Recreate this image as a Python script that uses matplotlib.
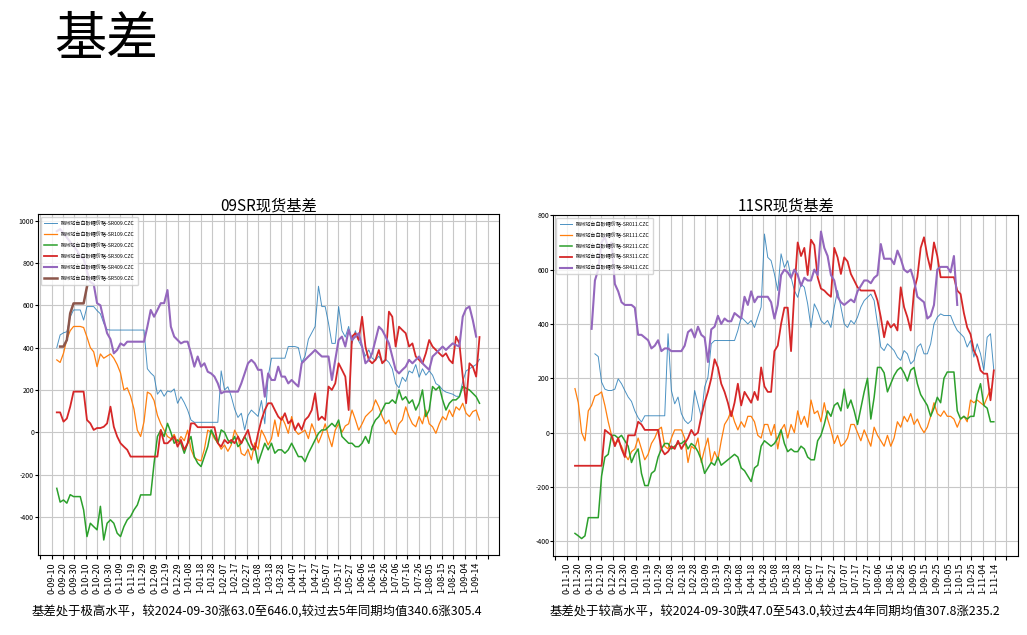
import numpy as np
import matplotlib
matplotlib.use("Agg")
import matplotlib.pyplot as plt

plt.rcParams['font.family'] = ['Noto Sans CJK SC', 'DejaVu Sans']
plt.rcParams['axes.unicode_minus'] = False

# ---- 09 contracts: basis series (sampled along the date axis) ----
days_09 = np.linspace(14.6, 383.0, 127)

sr009 = [400, 460, 470, 475, 545, 578, 578, 578, 530, 594, 594, 594, 575, 560, 515, 485,
         483, 483, 483, 483, 483, 483, 483, 483, 483, 483, 483,
         300, 280, 265, 180, 200, 170, 195, 190, 205, 137, 168, 140, 105, 58,
         47, 47, 47, 47, 47, 47, 47, 47,
         290, 200, 215, 170, 110, 70, 90, 11, 80, 105, 90, 75, 150, 40, 263,
         350, 350, 350, 350, 350, 405, 405, 405,
         400, 330, 360, 440, 470, 500, 690, 594, 594, 515, 420, 420, 594, 480, 450, 500,
         420, 480, 430, 400, 360, 390, 350, 340, 360, 330, 345, 330, 300, 230, 210, 260,
         240, 290, 280, 320, 260, 300, 270, 290, 270, 230, 220, 200, 190, 185, 180, 170,
         170, 240, 290, 300, 310, 320, 345]

sr109 = [342, 330, 373, 440, 480, 500, 500, 500, 495, 450, 400, 380, 310, 370, 350, 360,
         370, 350, 320, 280, 200, 210, 170, 110, 10, -20, 50, 190, 180, 150, 80, 40,
         10, -20, -30, -10, -50, -20, -40, 10, -80, -120, -130, -135, -80, 10, 0, -30,
         -50, -80, -60, -90, -60, 10, -20, -100, -110, -80, -130, -50, -80, 10, -20, -60,
         -30, 58, -20, 74, 40, -5, 74, 10, -10, 0, 10, -30, 40, 0, -50, -10,
         40, -20, -68, 10, 40, 0, 30, 40, 105, 60, 10, 40, 74, 90, 105, 153,
         120, 74, 40, 58, 10, -10, 40, 58, 120, 74, 40, 26, 74, 40, 105, 40,
         26, -5, 40, 74, 58, 105, 74, 120, 105, 137, 90, 74, 98, 105, 58]

sr209 = [-265, -330, -320, -335, -295, -304, -304, -304, -367, -493, -430, -446, -461, -350, -509, -430,
         -414, -430, -477, -493, -446, -414, -398, -367, -344, -296, -296, -296, -296, -146, -20, 10,
         -20, 42, 0, -52, -36, -52, -99, -52, -20, -115, -146, -162, -115, -68, 11, -20,
         -52, 11, 0, -36, -52, -20, -68, -52, -20, -52, -83, -68, -146, -99, -52, -83,
         -52, -99, -83, -83, -99, -83, -52, -83, -115, -115, -139, -99, -68, -36, -5, 11,
         11, 26, 42, 26, 58, -20, -36, -52, -52, -68, -68, -52, -20, -52, 26, 58,
         74, 105, 137, 137, 153, 137, 200, 153, 168, 137, 153, 105, 137, 200, 74, 105,
         216, 200, 216, 153, 105, 137, 153, 153, 168, 216, 208, 200, 184, 168, 137]

sr309 = [94, 94, 50, 65, 121, 192, 192, 192, 192, 58, 42, 11, 20, 20, 26, 42,
         121, 26, -20, -52, -68, -83, -115, -115, -115, -115, -115, -115, -115, -115, -115, 11,
         -52, -52, -36, -20, -68, -36, -83, -52, 42, 42, 24, 24, 24, 24, 24, 24,
         -52, -68, -36, -52, -36, -52, -20, -52, -20, 11, -52, -83, -5, 58, 105, 137,
         137, 105, 74, 58, 90, 42, 58, 11, 42, 11, 58, 74, 105, 184, 58, 74,
         58, 216, 200, 231, 326, 295, 263, 105, 452, 468, 436, 546, 405, 342, 326, 342,
         389, 326, 342, 570, 546, 405, 499, 483, 468, 405, 420, 358, 342, 326, 373, 436,
         405, 389, 373, 358, 373, 342, 326, 452, 420, 263, 137, 326, 310, 263, 450]

sr409 = [950, 960, 940, 920, 900, 880, 860, 830, 820, 760, 710, 700, 610, 600, 530, 468,
         440, 373, 389, 420, 410, 428, 428, 428, 428, 428, 428, 499, 578, 546, 578, 610,
         610, 672, 499, 452, 436, 420, 428, 428, 373, 310, 358, 310, 326, 286, 278, 263,
         231, 184, 192, 192, 192, 192, 192, 231, 278, 326, 342, 326, 295, 295, 168, 278,
         247, 247, 310, 263, 263, 231, 247, 231, 216, 326, 342, 358, 373, 389, 373, 358,
         358, 358, 247, 342, 436, 452, 405, 483, 436, 452, 468, 405, 326, 342, 373, 436,
         499, 483, 452, 420, 358, 295, 278, 295, 310, 342, 326, 342, 358, 326, 310, 295,
         358, 373, 389, 405, 389, 405, 420, 412, 405, 546, 584, 594, 530, 452, None]

sr509 = [None, 405, 405, 436, 562, 609, 609, 609, 609, 688] + [None] * 117

# ---- 11 contracts ----
days_11 = np.linspace(17.2, 379.3, 127)

sr011 = [None] * 6 + [
    290, 280, 186, 160, 155, 155, 160, 198, 180, 155, 131, 115, 80, 55, 39,
    62, 62, 62, 62, 62, 62, 62,
    364, 155, 106, 131, 70, 45, 33, 45, 155, 106, 58, 168, 204, 327,
    339, 339, 339, 339, 339, 339, 339,
    376, 425, 413, 400, 413, 387, 425, 462, 731, 645, 633, 584, 523, 658, 608, 633,
    572, 523, 498, 547, 535, 474, 387, 474, 449, 413, 400, 413, 387, 462, 523, 462,
    400, 387, 413, 400, 425, 462, 486, 498, 510, 486, 400, 315, 302, 327, 315, 302,
    278, 266, 302, 290, 253, 266, 315, 327, 290, 290, 327, 400, 425, 437, 431, 431,
    431, 400, 376, 364, 351, 315, 339, 278, 327, 290, 229, 351, 364, 229]

sr111 = [162, 110, 0, -30, 80, 100, 135, 140, 150, 100, 40, -10, -40, -30, -50, -80,
         -100, -70, -60, -20, -60, -100, -80, -40, -20, 10, 20, -50, -60, -20, 10, 10,
         10, -20, -110, -50, -60, -20, -110, -60, -20, -110, -70, -100, -30, 30, 50, 80,
         40, 10, 40, 20, 60, 60, 40, -10, -20, 30, 30, -10, 30, -60, 10, 30,
         -20, 30, 0, 80, 30, 60, 20, 120, 70, 80, 40, 110, 50, 10, -40, -10,
         -50, -40, -20, 30, 30, 0, -30, 10, -20, -50, 20, -10, -30, -50, -10, -50,
         -20, 40, 20, 60, 40, 70, 30, 50, 20, 0, 20, 60, 110, 70, 60, 80,
         60, 60, 50, 20, 50, 60, 40, 120, 110, 120, 110, 100, 130, 160, None]

sr211 = [-371, -380, -390, -380, -313, -313, -313, -313, -160, -90, -80, -10, -10, -20, -10, -30,
         -50, -110, -80, -60, -150, -195, -195, -150, -140, -90, -60, -40, -40, -60, -50, -40,
         -40, -30, -60, -40, -50, -70, -100, -150, -130, -110, -120, -90, -120, -110, -100, -90,
         -80, -90, -130, -140, -160, -180, -130, -120, -50, -30, -40, -50, -40, -20, 10, -40,
         -70, -60, -70, -70, -50, -60, -90, -100, -100, -30, -10, 30, 80, 60, 100, 110,
         80, 160, 90, 120, 80, 30, 90, 150, 200, 50, 130, 240, 240, 220, 150, 180,
         210, 230, 240, 220, 190, 230, 240, 180, 140, 120, 100, 60, 90, 130, 110, 200,
         223, 223, 223, 80, 50, 60, 50, 60, 60, 140, 180, 100, 90, 40, 40]

sr311 = [-122, -122, -122, -122, -122, -122, -122, -122, -122, 10, 0, -10, -50, -20, -60, -90,
         -10, -10, -10, 40, 30, 10, 10, 10, 10, 10, -60, -80, -70, -50, -60, -30,
         -60, -40, -20, 10, -10, 0, 60, 110, 150, 200, 270, 240, 180, 150, 110, 60,
         110, 180, 100, 150, 130, 110, 150, 120, 240, 170, 150, 150, 300, 320, 400, 460,
         460, 300, 520, 700, 650, 680, 580, 710, 690, 572, 530, 523, 510, 500, 680, 645,
         584, 645, 630, 584, 560, 535, 523, 523, 523, 523, 523, 486, 425, 351, 410, 387,
         400, 376, 535, 462, 425, 376, 523, 572, 680, 719, 650, 600, 700, 650, 572, 572,
         572, 572, 572, 523, 510, 440, 387, 362, 302, 278, 229, 217, 217, 119, 229]

sr411 = [None] * 5 + [
    382, 560, 600, 700, 720, 680, 700, 547, 520, 480, 470, 470, 470, 460, 360, 360,
    350, 340, 310, 320, 340, 300, 310, 310, 300, 300, 300, 300, 320, 370, 380, 350,
    390, 360, 350, 260, 380, 390, 430, 400, 420, 410, 410, 440, 430, 420, 500, 470,
    520, 480, 500, 500, 500, 500, 480, 420, 470, 580, 600, 590, 570, 600, 580, 540,
    570, 560, 560, 600, 580, 740, 680, 650, 580, 560, 500, 480, 470, 480, 490, 480,
    520, 540, 560, 560, 550, 570, 580, 694, 640, 640, 640, 620, 670, 640, 600, 590,
    600, 560, 500, 490, 480, 420, 430, 470, 600, 610, 610, 610, 590, 650, 470] + [None] * 11

names_09 = ['柳州站台白砂糖价格-SR009.CZC', '柳州站台白砂糖价格-SR109.CZC', '柳州站台白砂糖价格-SR209.CZC',
            '柳州站台白砂糖价格-SR309.CZC', '柳州站台白砂糖价格-SR409.CZC', '柳州站台白砂糖价格-SR509.CZC']
names_11 = ['柳州站台白砂糖价格-SR011.CZC', '柳州站台白砂糖价格-SR111.CZC', '柳州站台白砂糖价格-SR211.CZC',
            '柳州站台白砂糖价格-SR311.CZC', '柳州站台白砂糖价格-SR411.CZC']

labels_09 = ["0-09-10", "0-09-20", "0-09-30", "0-10-10", "0-10-20", "0-10-30", "0-11-09", "0-11-19",
             "0-11-29", "0-12-09", "0-12-19", "0-12-29", "1-01-08", "1-01-18", "1-01-28", "1-02-07",
             "1-02-17", "1-02-27", "1-03-08", "1-03-18", "1-03-28", "1-04-07", "1-04-17", "1-04-27",
             "1-05-07", "1-05-17", "1-05-27", "1-06-06", "1-06-16", "1-06-26", "1-07-06", "1-07-16",
             "1-07-26", "1-08-05", "1-08-15", "1-08-25", "1-09-04", "1-09-14"]
labels_11 = ["0-11-10", "0-11-20", "0-11-30", "0-12-10", "0-12-20", "0-12-30", "1-01-09", "1-01-19",
             "1-01-29", "1-02-08", "1-02-18", "1-02-28", "1-03-09", "1-03-19", "1-03-29", "1-04-08",
             "1-04-18", "1-04-28", "1-05-08", "1-05-18", "1-05-28", "1-06-07", "1-06-17", "1-06-27",
             "1-07-07", "1-07-17", "1-07-27", "1-08-06", "1-08-16", "1-08-26", "1-09-05", "1-09-15",
             "1-09-25", "1-10-05", "1-10-15", "1-10-25", "1-11-04", "1-11-14"]

note_09 = '基差处于极高水平，较2024-09-30涨63.0至646.0,较过去5年同期均值340.6涨305.4'
note_11 = '基差处于较高水平，较2024-09-30跌47.0至543.0,较过去4年同期均值307.8涨235.2'

colors = ['#1f77b4', '#ff7f0e', '#2ca02c', '#d62728', '#9467bd', '#8c564b']
widths = [0.7, 0.9, 1.1, 1.3, 1.5, 1.8]


def draw(ax, days, series, names, labels, title, ylim):
    for i, (vals, name) in enumerate(zip(series, names)):
        y = np.array([np.nan if v is None else v for v in vals], dtype=float)
        ax.plot(days, y, color=colors[i], lw=widths[i], label=name,
                alpha=0.8 if i == 0 else 1.0)
    ticks = np.arange(0, 400, 10)
    ax.set_xticks(ticks)
    ax.set_xticklabels([''] + labels + [''], rotation=90, fontsize=6.5)
    ax.set_xlim(-1.5, 400)
    ax.set_ylim(*ylim)
    ax.set_yticks(np.arange(-400, ylim[1], 200))
    ax.tick_params(axis='y', labelsize=5, length=2, pad=1)
    ax.tick_params(axis='x', length=3, pad=2)
    ax.grid(True, color='#c8c8c8', lw=0.8)
    ax.set_title(title, fontsize=11, pad=3)
    ax.legend(loc='upper left', fontsize=3.7, labelspacing=1.05, handlelength=2.4,
              borderpad=0.7, framealpha=0.8)


fig = plt.figure(figsize=(10.27, 6.35), dpi=100)
fig.text(0.053, 0.978, '基差', fontsize=37.5, va='top', ha='left')

ax1 = fig.add_axes([0.0373, 0.126, 0.4486, 0.5365])
draw(ax1, days_09, [sr009, sr109, sr209, sr309, sr409, sr509], names_09, labels_09,
     '09SR现货基差', (-580, 1030))
ax2 = fig.add_axes([0.5388, 0.1249, 0.4522, 0.5365])
draw(ax2, days_11, [sr011, sr111, sr211, sr311, sr411], names_11, labels_11,
     '11SR现货基差', (-453, 801))

fig.text(0.031, 0.036, note_09, fontsize=8.9, va='center', ha='left')
fig.text(0.535, 0.036, note_11, fontsize=8.9, va='center', ha='left')

fig.savefig('out.png', dpi=100)
